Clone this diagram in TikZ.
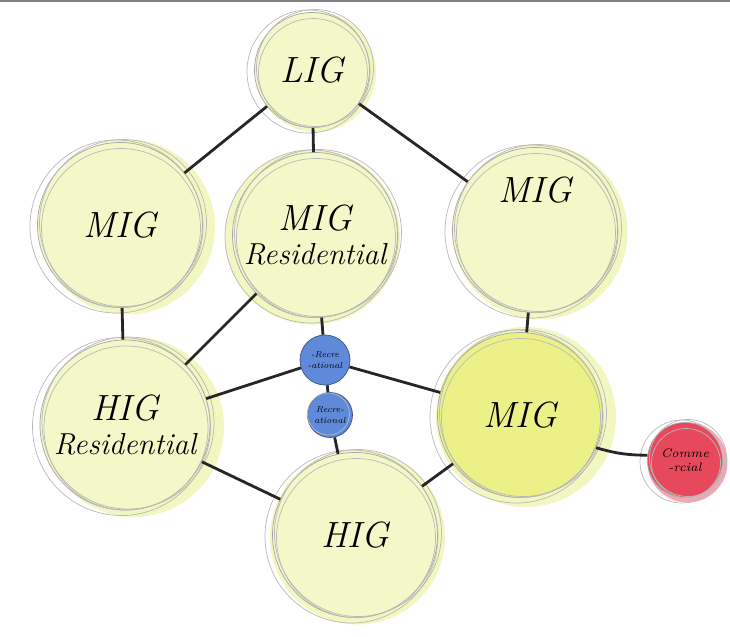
\documentclass[tikz,border=0pt]{standalone}
\usetikzlibrary{backgrounds}
\definecolor{plot}{RGB}{244,247,200}
\definecolor{haze}{RGB}{236,242,165}
\definecolor{bright}{RGB}{236,241,135}
\definecolor{rec}{RGB}{95,138,218}
\definecolor{com}{RGB}{232,72,92}
\begin{document}
\begin{tikzpicture}[every node/.style={font=\itshape},
  zone/.style={circle,draw=gray!70,thin,fill=plot,inner sep=0pt,align=center},
  park/.style={circle,draw=rec!60!black,thin,fill=rec,inner sep=0pt,align=center,font=\itshape\tiny},
  link/.style={line width=1.6pt,black!85},
  ring/.style={gray!55,line width=0.4pt}]
\useasboundingbox (0,0) rectangle (14.6,-12.72);
\draw[gray,line width=1pt] (0,-0.02) -- (14.6,-0.02);
% plots
\node[zone,minimum size=2.3cm] (lig) at (6.24,-1.4) {\huge LIG};
\node[zone,minimum size=3.3cm] (migL) at (2.4,-4.5) {\huge MIG};
\node[zone,minimum size=3.3cm] (migRes) at (6.3,-4.7) {\huge MIG\\[6pt]\LARGE Residential};
\node[zone,minimum size=3.3cm,label={[yshift=0.8cm]center:\huge MIG}] (migR) at (10.7,-4.6) {};
\node[zone,minimum size=3.4cm] (higRes) at (2.5,-8.5) {\huge HIG\\[6pt]\LARGE Residential};
\node[zone,fill=bright,minimum size=3.3cm] (migB) at (10.4,-8.3) {\huge MIG};
\node[zone,minimum size=3.3cm] (hig) at (7.1,-10.7) {\huge HIG};
% open spaces
\node[park,minimum size=1cm] (rec1) at (6.5,-7.2) {-Recre\\-ational};
\node[park,minimum size=0.9cm] (rec2) at (6.6,-8.3) {Recre-\\ational};
\node[circle,draw=gray!70,thin,fill=com,minimum size=1.5cm,inner sep=0pt,align=center,font=\itshape\scriptsize] (shop) at (13.7,-9.2) {Comme\\-rcial};
% sketchy rings and haze
\begin{scope}[on background layer]
\foreach \n/\r/\dx in {lig/1.2/0.08,migL/1.75/0.15,migRes/1.75/-0.05,migR/1.75/0.1,higRes/1.8/0.18,migB/1.8/0.12,hig/1.75/0.05}
  \fill[haze,opacity=0.7] ([shift={(\dx,-0.04)}]\n.center) circle[radius=\r];
\fill[com!80,opacity=0.6] ([shift={(0.05,-0.05)}]shop.center) circle[radius=0.8];
\end{scope}
\foreach \n/\r in {lig/1.17,migL/1.67,migRes/1.67,migR/1.67,higRes/1.72,migB/1.67,hig/1.67,shop/0.77}{
  \draw[ring] ([shift={(0.06,0.04)}]\n.center) circle[radius=\r];
  \draw[ring] ([shift={(-0.07,-0.03)}]\n.center) circle[radius=\r+0.06];
  \draw[ring] ([shift={(0.02,-0.06)}]\n.center) circle[radius=\r-0.08];
}
\draw[ring] ([shift={(-0.03,0.02)}]rec2.center) circle[radius=0.42];
% roads
\draw[link] (lig) -- (migL);
\draw[link] (lig) -- (migRes);
\draw[link] (lig) -- (migR);
\draw[link] (migL) -- (higRes);
\draw[link] (migRes) -- (higRes);
\draw[link] (migRes) -- (rec1);
\draw[link] (higRes) -- (rec1);
\draw[link] (rec1) -- (migB);
\draw[link] (rec1) -- (rec2);
\draw[link] (rec2) -- (hig);
\draw[link] (migR) -- (migB);
\draw[link] (migB) -- (hig);
\draw[link] (higRes) -- (hig);
\draw[link] (migB) to[bend right=8] (shop);
\end{tikzpicture}
\end{document}
